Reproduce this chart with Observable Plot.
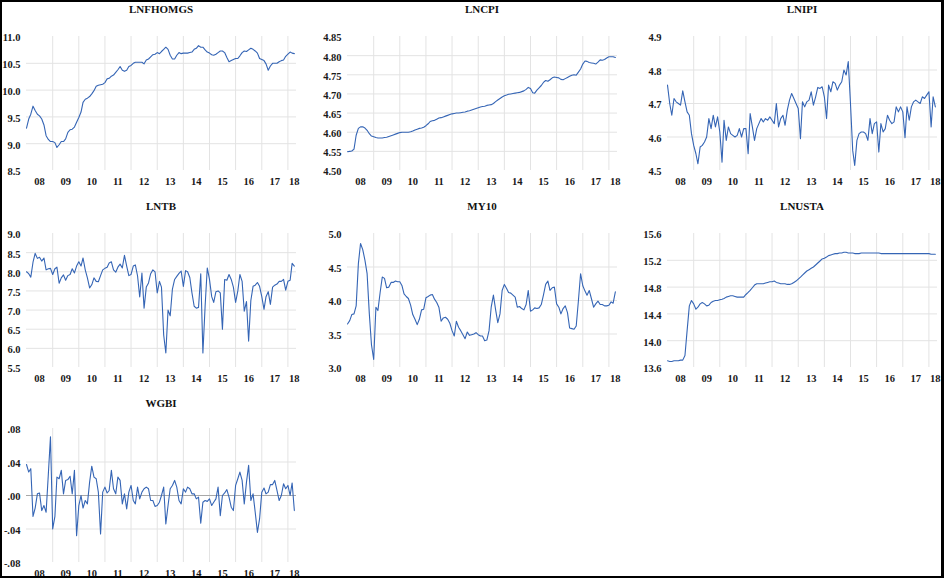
<!DOCTYPE html>
<html><head><meta charset="utf-8">
<script src="https://cdn.jsdelivr.net/npm/d3@7"></script>
<script src="https://cdn.jsdelivr.net/npm/@observablehq/plot@0.6"></script>
<style>
body{margin:0;background:#fff;}
#wrap{position:relative;width:944px;height:578px;overflow:hidden;background:#fff;}
#frame{position:absolute;left:0;top:0;width:944px;height:578px;box-sizing:border-box;border:2px solid #000;border-right-width:3px;pointer-events:none;}
.t{position:absolute;font:bold 11px "Liberation Serif","Times New Roman",serif;line-height:13px;text-align:center;color:#111;}
.p{position:absolute;}
.p text{font-family:"Liberation Serif","Times New Roman",serif !important;font-weight:bold !important;font-size:10.5px !important;fill:#1a1a1a;}
</style></head>
<body><div id="wrap"><div id="frame"></div></div>
<script>
// Monthly observations, Jan 2008 – Apr 2018
const LNFHOMGS = [
 9.29,9.46,9.55,9.70,9.62,9.55,9.52,9.46,9.35,9.15,9.08,9.04,
 9.04,9.02,8.93,8.98,9.04,9.04,9.09,9.21,9.26,9.27,9.31,9.40,
 9.49,9.59,9.77,9.83,9.85,9.88,9.93,9.99,10.07,10.09,10.10,10.11,
 10.14,10.21,10.22,10.26,10.28,10.33,10.38,10.44,10.37,10.35,10.37,10.44,
 10.46,10.50,10.52,10.52,10.52,10.52,10.49,10.56,10.58,10.62,10.66,10.67,
 10.70,10.68,10.72,10.76,10.80,10.76,10.65,10.58,10.58,10.65,10.70,10.68,
 10.69,10.69,10.69,10.70,10.71,10.76,10.78,10.83,10.80,10.80,10.75,10.71,
 10.69,10.66,10.65,10.67,10.70,10.73,10.73,10.70,10.61,10.53,10.55,10.57,
 10.59,10.59,10.64,10.70,10.73,10.72,10.75,10.78,10.76,10.73,10.69,10.59,
 10.57,10.55,10.49,10.37,10.45,10.50,10.50,10.50,10.53,10.55,10.56,10.63,
 10.67,10.71,10.69,10.68];
const LNCPI = [
 4.549,4.550,4.551,4.556,4.592,4.610,4.614,4.614,4.611,4.605,4.596,4.590,
 4.588,4.586,4.585,4.585,4.585,4.586,4.587,4.589,4.591,4.593,4.595,4.597,
 4.599,4.600,4.600,4.600,4.600,4.601,4.603,4.606,4.608,4.610,4.611,4.613,
 4.617,4.622,4.628,4.630,4.631,4.634,4.637,4.638,4.640,4.642,4.644,4.646,
 4.648,4.649,4.650,4.650,4.651,4.652,4.653,4.655,4.656,4.658,4.660,4.662,
 4.664,4.666,4.667,4.668,4.670,4.671,4.672,4.675,4.680,4.684,4.688,4.692,
 4.695,4.697,4.699,4.700,4.701,4.702,4.703,4.704,4.706,4.708,4.712,4.717,
 4.714,4.703,4.702,4.710,4.716,4.722,4.730,4.735,4.733,4.737,4.742,4.744,
 4.743,4.742,4.738,4.737,4.740,4.743,4.746,4.749,4.750,4.749,4.757,4.765,
 4.778,4.786,4.785,4.782,4.781,4.780,4.778,4.783,4.789,4.788,4.790,4.794,
 4.797,4.797,4.797,4.795];
const LNIPI = [
 4.755,4.700,4.665,4.715,4.705,4.700,4.695,4.738,4.705,4.675,4.665,4.610,
 4.575,4.550,4.520,4.570,4.575,4.585,4.600,4.655,4.625,4.665,4.630,4.660,
 4.615,4.525,4.650,4.590,4.630,4.610,4.605,4.600,4.605,4.625,4.600,4.625,
 4.625,4.550,4.670,4.630,4.590,4.625,4.640,4.655,4.645,4.655,4.650,4.660,
 4.650,4.640,4.700,4.630,4.655,4.665,4.635,4.680,4.710,4.730,4.715,4.700,
 4.685,4.595,4.705,4.690,4.705,4.710,4.735,4.695,4.720,4.748,4.745,4.750,
 4.720,4.655,4.755,4.735,4.765,4.760,4.740,4.755,4.765,4.800,4.785,4.825,
 4.700,4.560,4.515,4.590,4.610,4.615,4.615,4.610,4.590,4.655,4.610,4.640,
 4.645,4.555,4.640,4.615,4.625,4.665,4.650,4.640,4.645,4.690,4.675,4.690,
 4.675,4.598,4.690,4.650,4.690,4.705,4.710,4.705,4.700,4.720,4.715,4.725,
 4.735,4.630,4.720,4.690];
const LNTB = [
 8.00,7.95,7.86,8.25,8.48,8.35,8.38,8.28,8.36,8.05,8.08,8.09,
 7.93,8.08,8.12,7.70,7.84,7.92,7.78,7.90,7.93,8.08,7.97,8.15,
 8.26,8.15,8.36,8.05,7.84,7.58,7.66,7.84,7.75,7.74,7.90,8.05,
 8.09,8.12,8.23,8.26,8.05,7.99,8.12,8.20,8.10,8.43,8.15,7.90,
 7.93,8.15,8.18,7.89,7.34,7.97,7.05,7.60,7.71,7.95,8.05,8.00,
 7.45,7.75,7.60,6.35,5.88,7.00,6.85,7.55,7.80,7.88,7.96,8.02,
 7.62,8.03,8.00,7.85,7.45,7.10,7.05,7.07,7.95,5.88,7.10,8.10,
 7.80,7.35,7.20,7.48,7.50,7.45,6.50,7.80,7.78,7.93,7.80,7.60,
 7.20,7.50,7.93,7.75,6.97,7.22,6.19,7.25,7.62,7.65,7.72,7.62,
 7.35,7.02,7.35,7.48,7.15,7.60,7.65,7.68,7.75,7.75,7.80,7.52,
 7.75,7.78,8.22,8.15];
const MY10 = [
 3.65,3.70,3.79,3.80,3.92,4.55,4.85,4.76,4.60,4.40,3.80,3.34,
 3.12,3.90,3.85,4.12,4.35,4.33,4.19,4.20,4.27,4.27,4.29,4.28,
 4.28,4.22,4.10,4.06,4.03,3.93,3.79,3.72,3.64,3.72,3.86,3.87,
 4.04,4.06,4.08,4.09,4.02,3.97,3.90,3.69,3.74,3.75,3.72,3.66,
 3.55,3.47,3.69,3.60,3.55,3.49,3.43,3.53,3.48,3.49,3.50,3.52,
 3.49,3.47,3.47,3.40,3.41,3.55,3.90,4.08,3.86,3.67,3.80,4.15,
 4.24,4.18,4.12,4.11,4.08,4.05,3.90,3.91,3.88,3.86,3.94,4.15,
 3.84,3.86,3.89,3.88,3.89,3.94,4.08,4.24,4.29,4.15,4.19,4.20,
 3.95,3.90,3.80,3.88,3.92,3.82,3.59,3.58,3.57,3.62,4.00,4.40,
 4.22,4.14,4.08,4.15,4.03,3.90,3.95,3.99,3.94,3.94,3.92,3.92,
 3.93,3.98,3.96,4.13];
const LNUSTA = [
 13.70,13.69,13.69,13.70,13.70,13.70,13.71,13.71,13.78,14.15,14.52,14.60,
 14.55,14.47,14.50,14.55,14.57,14.55,14.52,14.53,14.57,14.59,14.60,14.60,
 14.61,14.62,14.63,14.65,14.66,14.67,14.67,14.66,14.65,14.65,14.65,14.65,
 14.69,14.72,14.75,14.79,14.83,14.85,14.85,14.85,14.85,14.86,14.87,14.88,
 14.88,14.89,14.87,14.86,14.85,14.85,14.85,14.84,14.84,14.85,14.87,14.89,
 14.92,14.95,14.98,15.01,15.04,15.06,15.08,15.10,15.13,15.16,15.19,15.22,
 15.23,15.25,15.27,15.28,15.29,15.30,15.30,15.31,15.31,15.32,15.32,15.31,
 15.31,15.31,15.30,15.30,15.30,15.31,15.31,15.31,15.31,15.31,15.31,15.31,
 15.31,15.31,15.30,15.30,15.30,15.30,15.30,15.30,15.30,15.30,15.30,15.30,
 15.30,15.30,15.30,15.30,15.30,15.30,15.30,15.30,15.30,15.30,15.30,15.30,
 15.30,15.29,15.29,15.29];
const WGBI = [
 .037,.028,.032,-.025,-.015,.002,.003,-.018,-.012,-.020,.025,.070,
 -.040,-.025,.022,.020,.030,.002,.018,.019,.023,.002,.030,-.048,
 -.012,.000,-.015,-.006,-.010,.016,.035,.022,.020,.004,-.046,.004,
 .010,.003,.006,.030,.008,.002,.022,.018,-.010,.002,-.016,.004,
 .012,-.006,-.010,.010,-.004,.004,.008,.010,.008,-.006,-.006,-.013,
 -.012,-.008,.000,.010,-.034,-.012,.008,.012,.018,.010,-.006,-.010,
 .008,.004,.010,.008,.002,.002,-.004,-.002,-.033,-.008,-.006,-.007,
 -.004,-.012,-.008,-.004,.010,-.024,.000,.003,.007,-.002,-.014,-.018,
 .012,.020,.028,.018,-.010,.016,.036,-.006,.002,-.020,-.044,-.028,
 .004,.009,.002,.004,.013,.013,.018,.006,-.006,.000,.014,.008,
 .012,.000,.015,-.018];

// Axis tick values and labels
const yearLabels = ["08","09","10","11","12","13","14","15","16","17","18"];
const ticksLNFHOMGS = [8.5,9.0,9.5,10.0,10.5,11.0];
const ticksLNCPI = [4.50,4.55,4.60,4.65,4.70,4.75,4.80,4.85];
const ticksLNIPI = [4.5,4.6,4.7,4.8,4.9];
const ticksLNTB = [5.5,6.0,6.5,7.0,7.5,8.0,8.5,9.0];
const ticksMY10 = [3.0,3.5,4.0,4.5,5.0];
const ticksLNUSTA = [13.6,14.0,14.4,14.8,15.2,15.6];
const ticksWGBI = [-0.08,-0.04,0,0.04,0.08];

const f1 = d => d.toFixed(1), f2 = d => d.toFixed(2);
const fW = d => (d < 0 ? "-" : "") + Math.abs(d).toFixed(2).replace(/^0/, "");

const panels = [
  {title:"LNFHOMGS", values:LNFHOMGS, ticks:ticksLNFHOMGS, fmt:f1},
  {title:"LNCPI", values:LNCPI, ticks:ticksLNCPI, fmt:f2},
  {title:"LNIPI", values:LNIPI, ticks:ticksLNIPI, fmt:f1},
  {title:"LNTB", values:LNTB, ticks:ticksLNTB, fmt:f1},
  {title:"MY10", values:MY10, ticks:ticksMY10, fmt:f1},
  {title:"LNUSTA", values:LNUSTA, ticks:ticksLNUSTA, fmt:f1},
  {title:"WGBI", values:WGBI, ticks:ticksWGBI, fmt:fW, zero:true}
];

const months = LNFHOMGS.map((_, i) => new Date(Date.UTC(2008, i, 1)));
const xStart = new Date(Date.UTC(2008, 0, 1)), xEnd = new Date(Date.UTC(2018, 4, 1));
const gridDates = d3.range(2009, 2019).map(y => new Date(Date.UTC(y, 0, 1)));
const labelDates = yearLabels.map((_, i) => i < 10 ? new Date(Date.UTC(2008 + i, 6, 1)) : new Date(Date.UTC(2008 + i, 3, 1)));

const wrap = document.getElementById("wrap");
const colLeft = [0, 321, 641], colWidth = [320, 320, 303];
const plotTop = [36, 232.5, 428], titleTop = [2.8, 199.5, 396.8];
const ML = 26, PW = 270, PH = 134, MT = 20;
const FONT = '"Liberation Serif","Times New Roman",serif';

panels.forEach((p, k) => {
  const col = k % 3, row = Math.floor(k / 3);
  const width = colWidth[col];
  const svgTop = plotTop[row] - MT;
  const height = row === 2 ? 578 - svgTop : MT + PH + 22;
  const data = p.values.map((v, i) => ({date: months[i], value: v}));
  const lo = p.ticks[0], hi = p.ticks[p.ticks.length - 1];
  const inner = p.ticks.slice(1, -1).filter(t => !(p.zero && t === 0));
  const chart = Plot.plot({
    width, height,
    marginLeft: ML, marginRight: width - ML - PW, marginTop: MT, marginBottom: height - MT - PH,
    x: {type: "utc", domain: [xStart, xEnd]},
    y: {domain: [lo, hi]},
    style: {fontFamily: FONT, fontSize: "10.5px", fontWeight: "bold", color: "#111", background: "transparent", overflow: "visible"},
    marks: [
      Plot.ruleY(inner, {stroke: "#e3e3e3", strokeWidth: 1}),
      Plot.ruleX(gridDates, {stroke: "#e3e3e3", strokeWidth: 1}),
      p.zero ? Plot.ruleY([0], {stroke: "#a8a8a8", strokeWidth: 1}) : null,
      Plot.line(data, {x: "date", y: "value", stroke: "#3565b5", strokeWidth: 1.1}),
      Plot.axisY({ticks: p.ticks, tickFormat: p.fmt, tickSize: 0, tickPadding: 6, dy: 1.5, label: null, fontFamily: FONT, fontWeight: "bold", fontSize: 10.5}),
      Plot.axisX({ticks: labelDates, tickFormat: d => yearLabels[d.getUTCFullYear() - 2008], tickSize: 0, tickPadding: 7, label: null, fontFamily: FONT, fontWeight: "bold", fontSize: 10.5})
    ]
  });
  chart.classList.add("p");
  chart.style.left = colLeft[col] + "px";
  chart.style.top = svgTop + "px";
  wrap.insertBefore(chart, document.getElementById("frame"));
  const t = document.createElement("div");
  t.className = "t";
  t.textContent = p.title;
  t.style.left = (colLeft[col] + ML) + "px";
  t.style.width = PW + "px";
  t.style.top = titleTop[row] + "px";
  wrap.insertBefore(t, document.getElementById("frame"));
});
</script>
</body></html>
